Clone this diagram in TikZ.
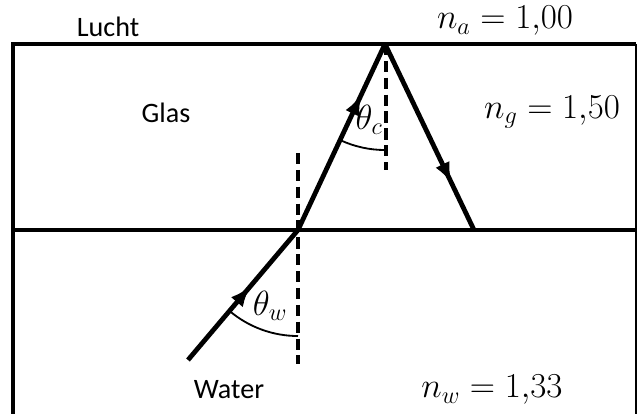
\documentclass[tikz,border=0pt]{standalone}
\usepackage{fontspec}
\setmainfont{Carlito}
\usetikzlibrary{angles, arrows.meta, decorations.markings}
\tikzset{
  ray/.style={line width=3.4pt},
  normalline/.style={line width=2.4pt, dash pattern=on 8pt off 4pt},
  midarrow/.style={postaction={decorate, decoration={markings,
      mark=at position #1 with {\arrow{Latex[length=15pt,width=11pt]}}}}},
  labeltext/.style={font=\fontsize{20}{22}\selectfont},
  mathtext/.style={font=\fontsize{24}{26}\selectfont},
  anglelabel/.style={font=\fontsize{23}{25}\selectfont}
}

\begin{document}
\begin{tikzpicture}[x=0.025cm, y=0.025cm]
  \useasboundingbox (0,0) rectangle (641,414);

  % glass block with the glass/water boundary
  \coordinate (boxbl) at (13,0);
  \coordinate (boxtl) at (13,370);
  \coordinate (boxtr) at (636,370);
  \coordinate (boxbr) at (636,0);
  \coordinate (bndl) at (13,184);
  \coordinate (bndr) at (636,184);
  \draw[ray, line join=miter] (boxbl) -- (boxtl) -- (boxtr);
  \draw[line width=2pt] (boxtr) -- (boxbr);
  \draw[ray] (bndl) -- (bndr);

  % light path: water -> glass -> total reflection -> boundary
  \coordinate (src) at (188,54);
  \coordinate (refr) at (298,184);
  \coordinate (top) at (385,370);
  \coordinate (hit) at (474,184);
  \draw[ray, midarrow=0.57] (src) -- (refr);
  \draw[ray, midarrow=0.73] (refr) -- (top);
  \draw[ray, midarrow=0.75] (top) -- (hit);

  % normals
  \coordinate (ntop) at (386,370);
  \coordinate (ntopend) at (386,244);
  \coordinate (nbotstart) at (298,261);
  \coordinate (nbotend) at (298,50);
  \draw[normalline] (ntop) -- (ntopend);
  \draw[normalline] (nbotstart) -- (nbotend);

  % angles
  \pic[draw, line width=1.3pt, angle radius=2.65cm] {angle = src--refr--nbotend};
  \pic[draw, line width=1.3pt, angle radius=2.65cm] {angle = refr--top--ntopend};
  \node[anglelabel] (thw) at (270,108) {$\theta_w$};
  \node[anglelabel] (thc) at (369,294) {$\theta_c$};

  % media and refractive indices
  \node[labeltext] (lucht) at (108,387) {Lucht};
  \node[labeltext] (glas) at (166,301) {Glas};
  \node[labeltext] (water) at (229,24) {Water};
  \node[mathtext] (na) at (505,393) {$n_a = 1{,}00$};
  \node[mathtext] (ng) at (552,302) {$n_g = 1{,}50$};
  \node[mathtext] (nw) at (492,24) {$n_w = 1{,}33$};
\end{tikzpicture}
\end{document}
